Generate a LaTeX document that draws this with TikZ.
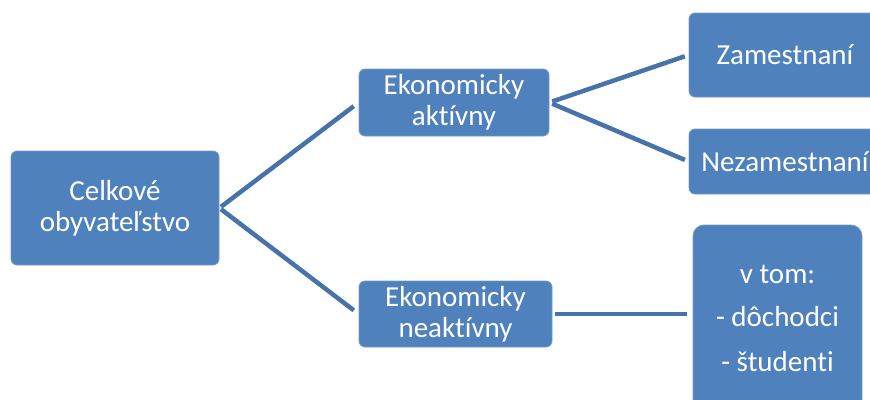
\documentclass[tikz,border=0pt]{standalone}
\usepackage{fontspec}
\setmainfont{Carlito}[Ligatures=NoCommon]
\definecolor{boxblue}{HTML}{4F81BD}
\definecolor{lineblue}{HTML}{4773AA}
\begin{document}
\begin{tikzpicture}[x=1pt,y=-1pt,
  box/.style={fill=boxblue, draw=boxblue!80!white, line width=0.8pt, rounded corners=6pt,
    text=white, align=center, inner sep=0pt, font=\fontsize{29}{31}\selectfont},
  link/.style={lineblue, line width=4.5pt}]
\useasboundingbox (0,0) rectangle (870,399);

% Whole population
\node[box, minimum width=208, minimum height=114] (celk) at (115,208) {Celkové\\obyvateľstvo};

% Active and inactive
\node[box, minimum width=190, minimum height=67] (akt) at (454,102.5) {Ekonomicky\\aktívny};
\node[box, minimum width=193, minimum height=66] (neakt) at (455.5,314) {Ekonomicky\\neaktívny};

% Right column
\node[box, minimum width=192, minimum height=84] (zam) at (785,55) {Zamestnaní};
\node[box, minimum width=192, minimum height=65] (nezam) at (785,161.5) {Nezamestnaní};
\node[box, rounded corners=11pt, minimum width=169, minimum height=186] (vtom) at (777.5,318)
  {v tom:\\[12pt]- dôchodci\\[14pt]- študenti};

% Lines
\draw[link, shorten <=2pt, shorten >=6pt] (celk.east) -- (akt.west);
\draw[link, shorten <=2pt, shorten >=6pt] (celk.east) -- (neakt.west);
\draw[link, shorten <=3pt, shorten >=4pt] (akt.east) -- (zam.west);
\draw[link, shorten <=3pt, shorten >=4pt] (akt.east) -- (nezam.west);
\draw[link, shorten <=3pt, shorten >=6pt] (neakt.east) -- (neakt.east -| vtom.west);
\end{tikzpicture}
\end{document}
